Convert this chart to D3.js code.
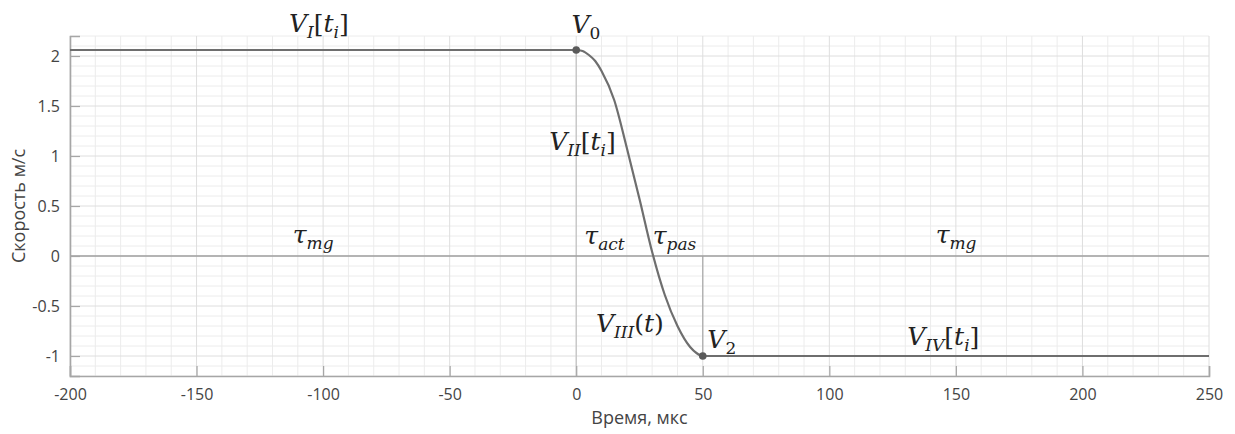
<!DOCTYPE html>
<html>
<head>
<meta charset="utf-8">
<script src="https://cdn.jsdelivr.net/npm/d3@7"></script>
<style>
  html, body { margin: 0; padding: 0; background: #fff; }
  svg { display: block; }
</style>
</head>
<body>
<div id="chart"></div>
<script>
// data
var timeTicks = [-200, -150, -100, -50, 0, 50, 100, 150, 200, 250];
var speedTicks = [-1, -0.5, 0, 0.5, 1, 1.5, 2];
var timeValues = [-200, 0, 2.5, 5, 7.5, 10, 15, 20, 25, 30, 35, 40, 45, 47.5, 50, 250];
var speedValues = [2.06, 2.06, 2.05, 2.01, 1.95, 1.85, 1.56, 1.08, 0.57, 0.04, -0.39, -0.70, -0.91, -0.97, -1.0, -1.0];
var keyTimes = [0, 50];
var keySpeeds = [2.06, -1.0];

var width = 1235, height = 434;
var margin = {left: 70, right: 26, top: 36, bottom: 58};

var svg = d3.select("#chart")
    .append("svg")
    .attr("width", width)
    .attr("height", height);

var x = d3.scaleLinear().domain([-200, 250]).range([margin.left, width - margin.right]);
var y = d3.scaleLinear().domain([-1.2, 2.2]).range([height - margin.bottom, margin.top]);

var x0 = x.range()[0], x1 = x.range()[1];
var yTop = y.range()[1], yBottom = y.range()[0];

// minor grid
var grid = svg.append("g");
grid.selectAll(".vminor")
    .data(d3.range(-200, 251, 10).filter(function (d) { return d % 50 !== 0; }))
    .enter().append("line")
    .attr("x1", function (d) { return x(d); })
    .attr("x2", function (d) { return x(d); })
    .attr("y1", yTop).attr("y2", yBottom)
    .attr("stroke", "#ececec").attr("stroke-width", 1);

grid.selectAll(".hminor")
    .data(d3.range(-12, 23, 1).filter(function (d) { return d % 5 !== 0; }).map(function (d) { return d / 10; }))
    .enter().append("line")
    .attr("x1", x0).attr("x2", x1)
    .attr("y1", function (d) { return y(d); })
    .attr("y2", function (d) { return y(d); })
    .attr("stroke", "#ececec").attr("stroke-width", 1);

// major grid
grid.selectAll(".vmajor")
    .data(timeTicks)
    .enter().append("line")
    .attr("x1", function (d) { return x(d); })
    .attr("x2", function (d) { return x(d); })
    .attr("y1", yTop).attr("y2", yBottom)
    .attr("stroke", "#dedede").attr("stroke-width", 1);

grid.selectAll(".hmajor")
    .data(speedTicks)
    .enter().append("line")
    .attr("x1", x0).attr("x2", x1)
    .attr("y1", function (d) { return y(d); })
    .attr("y2", function (d) { return y(d); })
    .attr("stroke", "#dedede").attr("stroke-width", 1);

// reference lines
svg.append("line")
    .attr("x1", x(0)).attr("x2", x(0))
    .attr("y1", y(keySpeeds[0])).attr("y2", yBottom)
    .attr("stroke", "#c2c2c2").attr("stroke-width", 1.2);

svg.append("line")
    .attr("x1", x(keyTimes[1])).attr("x2", x(keyTimes[1]))
    .attr("y1", y(0)).attr("y2", y(keySpeeds[1]))
    .attr("stroke", "#a8a8a8").attr("stroke-width", 1.2);

svg.append("line")
    .attr("x1", x0).attr("x2", x1)
    .attr("y1", y(0)).attr("y2", y(0))
    .attr("stroke", "#a0a0a0").attr("stroke-width", 1.6);

// axes
var xAxis = d3.axisBottom(x).tickValues(timeTicks).tickSize(-10).tickPadding(13)
    .tickFormat(function (d) { return d; });
var yAxis = d3.axisLeft(y).tickValues(speedTicks).tickSize(-10).tickPadding(10)
    .tickFormat(function (d) { return d; });

var gx = svg.append("g")
    .attr("transform", "translate(0," + yBottom + ")")
    .call(xAxis);
var gy = svg.append("g")
    .attr("transform", "translate(" + x0 + ",0)")
    .call(yAxis);

[gx, gy].forEach(function (g) {
    g.select(".domain").attr("stroke", "#a6a6a6").attr("stroke-width", 1.6);
    g.selectAll(".tick line").attr("stroke", "#a6a6a6").attr("stroke-width", 1.2);
    g.selectAll(".tick text")
        .attr("fill", "#444")
        .style("font-family", "'Open Sans', sans-serif")
        .style("font-size", "16px");
});

svg.append("text")
    .attr("x", (x0 + x1) / 2)
    .attr("y", 424)
    .attr("text-anchor", "middle")
    .attr("fill", "#444")
    .style("font-family", "'Open Sans', sans-serif")
    .style("font-size", "18px")
    .text("Время, мкс");

svg.append("text")
    .attr("transform", "translate(25," + (yTop + yBottom) / 2 + ") rotate(-90)")
    .attr("text-anchor", "middle")
    .attr("fill", "#444")
    .style("font-family", "'Open Sans', sans-serif")
    .style("font-size", "18px")
    .text("Скорость м/с");

// speed curve
var line = d3.line()
    .x(function (d) { return x(d[0]); })
    .y(function (d) { return y(d[1]); })
    .curve(d3.curveMonotoneX);

svg.append("path")
    .datum(d3.zip(timeValues, speedValues))
    .attr("fill", "none")
    .attr("stroke", "#6e6e6e")
    .attr("stroke-width", 2.2)
    .attr("d", line);

svg.selectAll(".key")
    .data(d3.zip(keyTimes, keySpeeds))
    .enter().append("circle")
    .attr("cx", function (d) { return x(d[0]); })
    .attr("cy", function (d) { return y(d[1]); })
    .attr("r", 3.8)
    .attr("fill", "#5a5a5a");

// formula labels: [time, speed, parts]; parts = [text, subscript, italic]
var labels = [
    [-113.5, 2.24, [["V", 0, 1], ["I", 1, 1], ["[", 0, 0], ["t", 0, 1], ["i", 1, 1], ["]", 0, 0]]],
    [-1.9, 2.23, [["V", 0, 1], ["0", 1, 0]]],
    [-10.7, 1.06, [["V", 0, 1], ["II", 1, 1], ["[", 0, 0], ["t", 0, 1], ["i", 1, 1], ["]", 0, 0]]],
    [-112, 0.13, [["τ", 0, 1], ["mg", 1, 1]]],
    [3.2, 0.12, [["τ", 0, 1], ["act", 1, 1]]],
    [30.2, 0.12, [["τ", 0, 1], ["pas", 1, 1]]],
    [142, 0.13, [["τ", 0, 1], ["mg", 1, 1]]],
    [7.8, -0.76, [["V", 0, 1], ["III", 1, 1], ["(", 0, 0], ["t", 0, 1], [")", 0, 0]]],
    [51.8, -0.92, [["V", 0, 1], ["2", 1, 0]]],
    [130.8, -0.89, [["V", 0, 1], ["IV", 1, 1], ["[", 0, 0], ["t", 0, 1], ["i", 1, 1], ["]", 0, 0]]]
];

var label = svg.selectAll(".formula")
    .data(labels)
    .enter().append("text")
    .attr("x", function (d) { return x(d[0]); })
    .attr("y", function (d) { return y(d[1]); })
    .attr("fill", "#222")
    .style("font-family", "'DejaVu Serif', serif")
    .style("font-size", "25px");

label.each(function (d) {
    var t = d3.select(this);
    var down = false;
    d[2].forEach(function (p) {
        var dy = 0;
        if (p[1] && !down) { dy = 6; down = true; }
        else if (!p[1] && down) { dy = -6; down = false; }
        t.append("tspan")
            .attr("dy", dy)
            .style("font-size", p[1] ? "17px" : "25px")
            .style("font-style", p[2] ? "italic" : "normal")
            .text(p[0]);
    });
});
</script>
</body>
</html>
